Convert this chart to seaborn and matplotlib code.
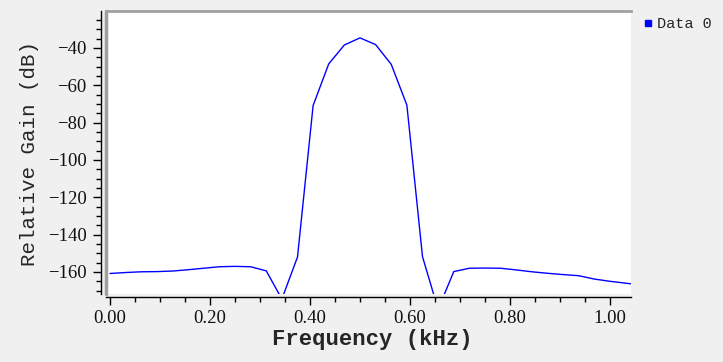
import pandas as pd
import matplotlib
matplotlib.use("Agg")
import matplotlib.pyplot as plt
from matplotlib.lines import Line2D
from matplotlib.ticker import MultipleLocator, FormatStrFormatter
import seaborn as sns

# frequency grid (kHz) and relative gain (dB)
freq = [0.0, 0.03125, 0.0625, 0.09375, 0.125, 0.15625, 0.1875, 0.21875,
        0.25, 0.28125, 0.3125, 0.34375, 0.375, 0.40625, 0.4375, 0.46875,
        0.5, 0.53125, 0.5625, 0.59375, 0.625, 0.65625, 0.6875, 0.71875,
        0.75, 0.78125, 0.8125, 0.84375, 0.875, 0.90625, 0.9375, 0.96875,
        1.0, 1.03125, 1.0625]
gain = [-160.8, -160.3, -159.9, -159.8, -159.5, -158.8, -158.0, -157.2,
        -157.0, -157.2, -159.4, -174.5, -152.0, -70.8, -48.5, -38.4,
        -34.6, -38.2, -48.8, -70.6, -151.8, -180.0, -159.8, -158.0,
        -157.9, -158.0, -158.9, -159.9, -160.7, -161.4, -162.0, -163.8,
        -165.0, -166.0, -167.0]
series_name = "Data 0"

df = pd.DataFrame({"Frequency": freq, "Gain": gain})

sns.set_style("white")
plt.rcParams["font.family"] = ["Liberation Serif", "DejaVu Serif"]

fig = plt.figure(figsize=(7.23, 3.62), dpi=100, facecolor="#f0f0f0")
ax = fig.add_axes([106 / 723, 1 - 294 / 362, 525 / 723, 283 / 362])
ax.set_facecolor("white")

sns.lineplot(data=df, x="Frequency", y="Gain", color="#0000ff", lw=1.0, ax=ax)

ax.set_xlim(-0.008, 1.042)
ax.set_ylim(-171.8, -20.2)
ax.xaxis.set_major_locator(MultipleLocator(0.2))
ax.xaxis.set_minor_locator(MultipleLocator(0.05))
ax.xaxis.set_major_formatter(FormatStrFormatter("%.2f"))
ax.yaxis.set_major_locator(MultipleLocator(20))
ax.yaxis.set_minor_locator(MultipleLocator(5))
ax.set_yticks(range(-160, -39, 20))

ax.tick_params(which="major", direction="out", length=6, width=1, color="black",
               labelsize=13.5, left=True, bottom=True, labelcolor="#111111")
ax.tick_params(axis="y", which="major", pad=4.5)
ax.tick_params(axis="x", which="major", pad=3)
ax.tick_params(which="minor", direction="out", length=3.5, width=1, color="black",
               left=True, bottom=True)

# spines: black tick axes pushed outward, grey frame on top/left
ax.spines["right"].set_visible(False)
ax.spines["left"].set_position(("outward", 3.6))
ax.spines["bottom"].set_position(("outward", 2.2))
ax.spines["left"].set_color("black")
ax.spines["bottom"].set_color("black")
ax.spines["left"].set_linewidth(1)
ax.spines["bottom"].set_linewidth(1)
ax.spines["top"].set_color("#a0a0a0")
ax.spines["top"].set_linewidth(2)
ax.add_line(Line2D([0, 0], [0, 1], transform=ax.transAxes, color="#a0a0a0",
                   lw=2.5, clip_on=False))

ax.set_xlabel("Frequency (kHz)", fontsize=16, fontweight="bold",
              family=["Liberation Mono", "DejaVu Sans Mono"], va="center")
ax.set_ylabel("Relative Gain (dB)", fontsize=15,
              family=["Liberation Mono", "DejaVu Sans Mono"], va="center")
ax.xaxis.set_label_coords((372 - 106) / 525, (294 - 340) / 283)
ax.yaxis.set_label_coords((30 - 106) / 525, (294 - 153) / 283)

handle = Line2D([], [], marker="s", color="#0000ff", linestyle="none", markersize=5)
fig.legend([handle], [series_name], loc="upper left",
           bbox_to_anchor=(634 / 723, 1 - 11 / 362), frameon=False,
           prop={"family": "Liberation Mono", "size": 11},
           handletextpad=0.1, borderaxespad=0, handlelength=1.0)

fig.savefig("out.png", dpi=100, facecolor=fig.get_facecolor())
